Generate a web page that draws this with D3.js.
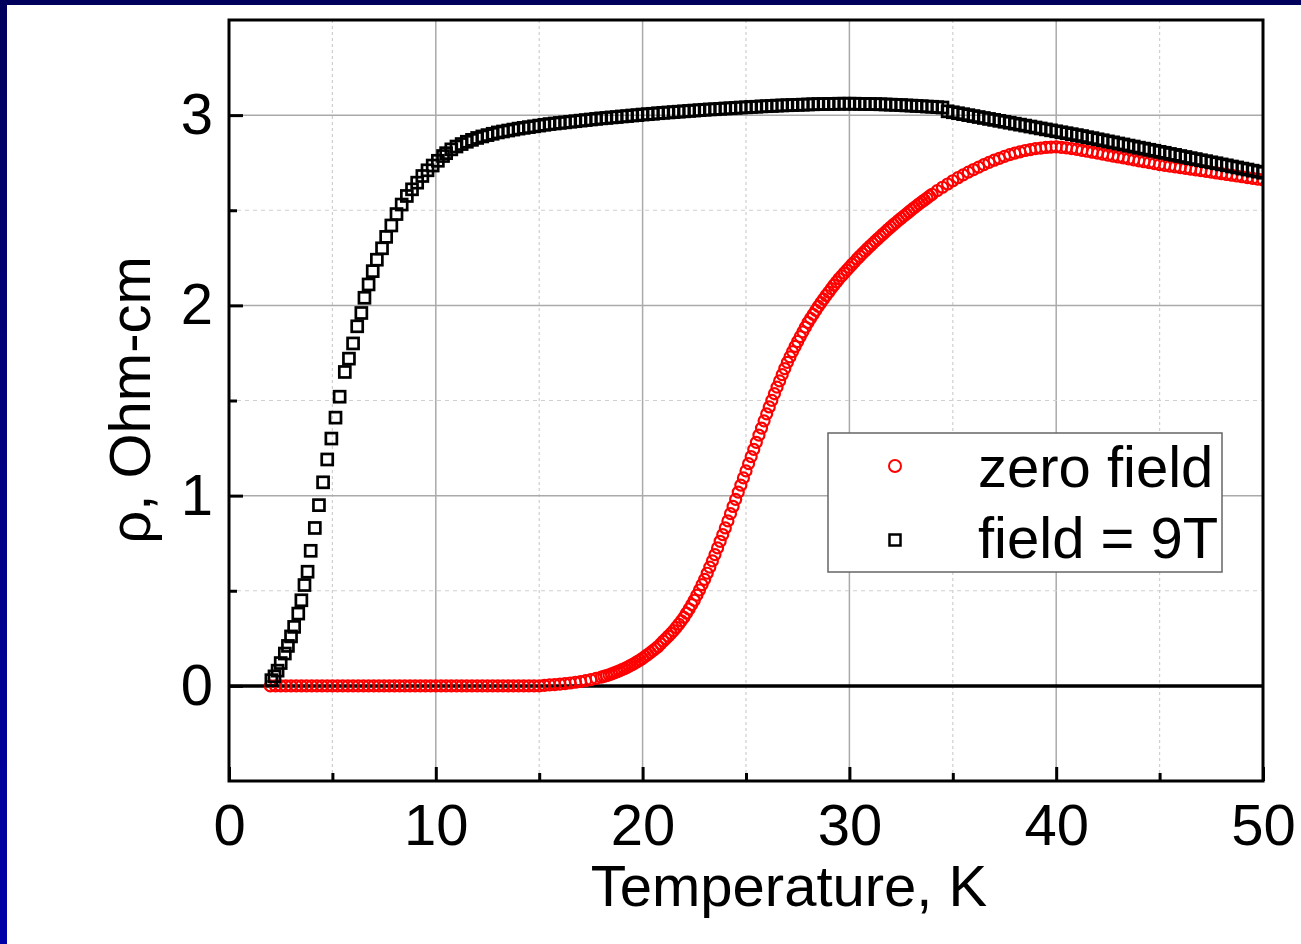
<!DOCTYPE html>
<html>
<head>
<meta charset="utf-8">
<script src="https://cdn.jsdelivr.net/npm/d3@7.9.0/dist/d3.min.js"></script>
<style>
  html, body { margin: 0; padding: 0; background: #000066; }
  svg { display: block; }
  text { font-family: "Liberation Sans", Arial, sans-serif; fill: #000; }
</style>
</head>
<body>
<svg id="chart" width="1301" height="944"></svg>
<script>
// zero field (red circles): temperature, K and resistivity, Ohm-cm
const zeroFieldT = [
  2, 2.25, 2.5, 2.75, 3, 3.25, 3.5, 3.75,
  4, 4.25, 4.5, 4.75, 5, 5.25, 5.5, 5.75,
  6, 6.25, 6.5, 6.75, 7, 7.25, 7.5, 7.75,
  8, 8.25, 8.5, 8.75, 9, 9.25, 9.5, 9.75,
  10, 10.25, 10.5, 10.75, 11, 11.25, 11.5, 11.75,
  12, 12.25, 12.5, 12.75, 13, 13.25, 13.5, 13.75,
  14, 14.25, 14.5, 14.75, 15, 15.25, 15.5, 15.75,
  16, 16.25, 16.5, 16.75, 17, 17.25, 17.5, 17.75,
  18, 18.125, 18.25, 18.375, 18.5, 18.625, 18.75, 18.875,
  19, 19.125, 19.25, 19.375, 19.5, 19.625, 19.75, 19.875,
  20, 20.125, 20.25, 20.375, 20.5, 20.625, 20.75, 20.875,
  21, 21.125, 21.25, 21.375, 21.5, 21.625, 21.75, 21.875,
  22, 22.125, 22.25, 22.375, 22.5, 22.625, 22.75, 22.875,
  23, 23.125, 23.25, 23.375, 23.5, 23.625, 23.75, 23.875,
  24, 24.125, 24.25, 24.375, 24.5, 24.625, 24.75, 24.875,
  25, 25.125, 25.25, 25.375, 25.5, 25.625, 25.75, 25.875,
  26, 26.125, 26.25, 26.375, 26.5, 26.625, 26.75, 26.875,
  27, 27.125, 27.25, 27.375, 27.5, 27.625, 27.75, 27.875,
  28, 28.125, 28.25, 28.375, 28.5, 28.625, 28.75, 28.875,
  29, 29.125, 29.25, 29.375, 29.5, 29.625, 29.75, 29.875,
  30, 30.125, 30.25, 30.375, 30.5, 30.625, 30.75, 30.875,
  31, 31.125, 31.25, 31.375, 31.5, 31.625, 31.75, 31.875,
  32, 32.125, 32.25, 32.375, 32.5, 32.625, 32.75, 32.875,
  33, 33.125, 33.25, 33.375, 33.5, 33.625, 33.75, 33.875,
  34, 34.25, 34.5, 34.75, 35, 35.25, 35.5, 35.75,
  36, 36.25, 36.5, 36.75, 37, 37.25, 37.5, 37.75,
  38, 38.25, 38.5, 38.75, 39, 39.25, 39.5, 39.75,
  40, 40.25, 40.5, 40.75, 41, 41.25, 41.5, 41.75,
  42, 42.25, 42.5, 42.75, 43, 43.25, 43.5, 43.75,
  44, 44.25, 44.5, 44.75, 45, 45.25, 45.5, 45.75,
  46, 46.25, 46.5, 46.75, 47, 47.25, 47.5, 47.75,
  48, 48.25, 48.5, 48.75, 49, 49.25, 49.5, 49.75,
  50
];
const zeroFieldRho = [
  0, 0, 0, 0, 0, 0, 0, 0,
  0, 0, 0, 0, 0, 0, 0, 0,
  0, 0, 0, 0, 0, 0, 0, 0,
  0, 0, 0, 0, 0, 0, 0, 0,
  0, 0, 0, 0, 0, 0, 0, 0,
  0, 0, 0, 0, 0, 0, 0, 0,
  0, 0, 0, 0, 0, 0.003, 0.005, 0.007,
  0.009, 0.012, 0.015, 0.019, 0.023, 0.028, 0.033, 0.039,
  0.046, 0.05, 0.054, 0.058, 0.063, 0.068, 0.074, 0.079,
  0.085, 0.091, 0.098, 0.105, 0.112, 0.12, 0.128, 0.136,
  0.145, 0.155, 0.165, 0.175, 0.185, 0.196, 0.207, 0.221,
  0.235, 0.248, 0.262, 0.276, 0.29, 0.307, 0.324, 0.342,
  0.36, 0.382, 0.404, 0.427, 0.45, 0.477, 0.504, 0.532,
  0.56, 0.592, 0.624, 0.657, 0.69, 0.725, 0.76, 0.795,
  0.83, 0.867, 0.905, 0.943, 0.98, 1.018, 1.055, 1.093,
  1.13, 1.168, 1.205, 1.243, 1.28, 1.318, 1.355, 1.393,
  1.43, 1.466, 1.501, 1.536, 1.57, 1.603, 1.636, 1.668,
  1.7, 1.729, 1.757, 1.784, 1.81, 1.836, 1.861, 1.886,
  1.91, 1.932, 1.953, 1.974, 1.995, 2.014, 2.033, 2.052,
  2.07, 2.088, 2.106, 2.123, 2.14, 2.155, 2.17, 2.185,
  2.2, 2.215, 2.229, 2.244, 2.258, 2.272, 2.285, 2.299,
  2.312, 2.325, 2.338, 2.35, 2.363, 2.375, 2.388, 2.4,
  2.412, 2.424, 2.435, 2.447, 2.458, 2.469, 2.48, 2.491,
  2.502, 2.513, 2.523, 2.534, 2.544, 2.554, 2.564, 2.574,
  2.584, 2.603, 2.621, 2.638, 2.655, 2.671, 2.686, 2.7,
  2.714, 2.727, 2.74, 2.752, 2.763, 2.773, 2.783, 2.792,
  2.8, 2.807, 2.814, 2.819, 2.824, 2.827, 2.83, 2.832,
  2.833, 2.831, 2.828, 2.824, 2.82, 2.815, 2.81, 2.805,
  2.8, 2.795, 2.79, 2.785, 2.78, 2.775, 2.77, 2.765,
  2.76, 2.755, 2.75, 2.745, 2.74, 2.736, 2.732, 2.728,
  2.724, 2.72, 2.716, 2.712, 2.708, 2.704, 2.7, 2.696,
  2.692, 2.688, 2.684, 2.68, 2.676, 2.672, 2.668, 2.664,
  2.66
];

// field = 9T (black squares)
const field9T_T = [
  2.05, 2.2, 2.35, 2.5, 2.7, 2.85, 3, 3.15, 3.35, 3.5, 3.65, 3.8, 3.95, 4.15,
  4.35, 4.55, 4.75, 4.95, 5.15, 5.35, 5.6, 5.8, 6, 6.2, 6.4, 6.55, 6.75, 6.95,
  7.15, 7.4, 7.6, 7.85, 8.1, 8.35, 8.6, 8.85, 9.1, 9.35, 9.6, 9.85, 10.1, 10.35,
  10.5, 10.75, 11, 11.25, 11.5, 11.75,
  12, 12.25, 12.5, 12.75, 13, 13.25, 13.5, 13.75,
  14, 14.25, 14.5, 14.75, 15, 15.25, 15.5, 15.75,
  16, 16.25, 16.5, 16.75, 17, 17.25, 17.5, 17.75,
  18, 18.25, 18.5, 18.75, 19, 19.25, 19.5, 19.75,
  20, 20.25, 20.5, 20.75, 21, 21.25, 21.5, 21.75,
  22, 22.25, 22.5, 22.75, 23, 23.25, 23.5, 23.75,
  24, 24.25, 24.5, 24.75, 25, 25.25, 25.5, 25.75,
  26, 26.25, 26.5, 26.75, 27, 27.25, 27.5, 27.75,
  28, 28.25, 28.5, 28.75, 29, 29.25, 29.5, 29.75,
  30, 30.25, 30.5, 30.75, 31, 31.25, 31.5, 31.75,
  32, 32.25, 32.5, 32.75, 33, 33.25, 33.5, 33.75,
  34, 34.25, 34.5, 34.75, 35, 35.25, 35.5, 35.75,
  36, 36.25, 36.5, 36.75, 37, 37.25, 37.5, 37.75,
  38, 38.25, 38.5, 38.75, 39, 39.25, 39.5, 39.75,
  40, 40.25, 40.5, 40.75, 41, 41.25, 41.5, 41.75,
  42, 42.25, 42.5, 42.75, 43, 43.25, 43.5, 43.75,
  44, 44.25, 44.5, 44.75, 45, 45.25, 45.5, 45.75,
  46, 46.25, 46.5, 46.75, 47, 47.25, 47.5, 47.75,
  48, 48.25, 48.5, 48.75, 49, 49.25, 49.5, 49.75,
  50
];
const field9T_Rho = [
  0.03, 0.05, 0.08, 0.12, 0.17, 0.21, 0.26, 0.31, 0.38, 0.45, 0.53, 0.6, 0.71, 0.83,
  0.95, 1.07, 1.19, 1.3, 1.41, 1.52, 1.65, 1.72, 1.8, 1.89, 1.96, 2.04, 2.11, 2.18,
  2.24, 2.3, 2.36, 2.42, 2.48, 2.53, 2.575, 2.61, 2.645, 2.68, 2.71, 2.735, 2.76, 2.785,
  2.8, 2.82, 2.835, 2.848, 2.86, 2.87,
  2.88, 2.888, 2.895, 2.902, 2.909, 2.914, 2.919, 2.924,
  2.929, 2.933, 2.937, 2.941, 2.945, 2.949, 2.953, 2.956,
  2.959, 2.962, 2.965, 2.968, 2.971, 2.974, 2.977, 2.98,
  2.983, 2.985, 2.988, 2.99, 2.993, 2.995, 2.998, 3.0,
  3.003, 3.005, 3.007, 3.01, 3.012, 3.014, 3.016, 3.018,
  3.02, 3.022, 3.024, 3.026, 3.028, 3.03, 3.031, 3.033,
  3.035, 3.036, 3.038, 3.04, 3.041, 3.043, 3.044, 3.046,
  3.047, 3.048, 3.05, 3.051, 3.052, 3.053, 3.054, 3.055,
  3.056, 3.057, 3.058, 3.058, 3.059, 3.059, 3.06, 3.06,
  3.06, 3.06, 3.059, 3.059, 3.058, 3.058, 3.057, 3.056,
  3.055, 3.054, 3.053, 3.051, 3.05, 3.048, 3.047, 3.045,
  3.044, 3.042, 3.04, 3.02, 3.015, 3.01, 3.005, 3.0,
  2.995, 2.99, 2.985, 2.98, 2.975, 2.97, 2.965, 2.96,
  2.955, 2.95, 2.945, 2.94, 2.935, 2.93, 2.925, 2.92,
  2.915, 2.91, 2.905, 2.9, 2.895, 2.89, 2.884, 2.879,
  2.873, 2.868, 2.862, 2.857, 2.851, 2.846, 2.84, 2.835,
  2.829, 2.824, 2.818, 2.813, 2.807, 2.802, 2.796, 2.791,
  2.785, 2.78, 2.774, 2.769, 2.763, 2.758, 2.752, 2.747,
  2.741, 2.736, 2.73, 2.725, 2.719, 2.714, 2.708, 2.703,
  2.697
];

const xMajorTicks = [0, 10, 20, 30, 40, 50];
const xMinorTicks = [5, 15, 25, 35, 45];
const yMajorTicks = [0, 1, 2, 3];
const yMinorTicks = [0.5, 1.5, 2.5];
const seriesLabels = ['zero field', 'field = 9T'];

const svg = d3.select('#chart');

// slide background
const defs = svg.append('defs');
const grad = defs.append('linearGradient')
  .attr('id', 'bg').attr('x1', 0).attr('y1', 0).attr('x2', 0).attr('y2', 1);
grad.append('stop').attr('offset', '0%').attr('stop-color', '#00005c');
grad.append('stop').attr('offset', '100%').attr('stop-color', '#0000a8');
svg.append('rect').attr('width', 1301).attr('height', 944).attr('fill', 'url(#bg)');
svg.append('rect').attr('x', 7).attr('y', 5).attr('width', 1294).attr('height', 939).attr('fill', '#fff');

const plotL = 229, plotR = 1263, plotT = 20, plotB = 781;
const x = d3.scaleLinear().domain([0, 50]).range([plotL, plotR]);
const y = d3.scaleLinear().domain([-0.5, 3.5]).range([plotB, plotT]);

defs.append('clipPath').attr('id', 'plot')
  .append('rect').attr('x', plotL).attr('y', plotT).attr('width', plotR - plotL).attr('height', plotB - plotT);

// grid
const grid = svg.append('g');
grid.selectAll('.vmaj').data(xMajorTicks.slice(1, -1)).join('line').attr('class', 'vmaj')
  .attr('x1', d => x(d)).attr('x2', d => x(d)).attr('y1', plotT).attr('y2', plotB)
  .attr('stroke', '#aaaaaa').attr('stroke-width', 1.5);
grid.selectAll('.vmin').data(xMinorTicks).join('line').attr('class', 'vmin')
  .attr('x1', d => x(d)).attr('x2', d => x(d)).attr('y1', plotT).attr('y2', plotB)
  .attr('stroke', '#cfcfcf').attr('stroke-width', 1.2).attr('stroke-dasharray', '3,3');
grid.selectAll('.hmaj').data(yMajorTicks).join('line').attr('class', 'hmaj')
  .attr('y1', d => y(d)).attr('y2', d => y(d)).attr('x1', plotL).attr('x2', plotR)
  .attr('stroke', '#aaaaaa').attr('stroke-width', 1.5);
grid.selectAll('.hmin').data(yMinorTicks).join('line').attr('class', 'hmin')
  .attr('y1', d => y(d)).attr('y2', d => y(d)).attr('x1', plotL).attr('x2', plotR)
  .attr('stroke', '#cfcfcf').attr('stroke-width', 1.2).attr('stroke-dasharray', '4,4');

// zero line
svg.append('line')
  .attr('x1', x(0)).attr('x2', x(50)).attr('y1', y(0)).attr('y2', y(0))
  .attr('stroke', '#000').attr('stroke-width', 3.5);

// data
const zeroField = zeroFieldT.map((t, i) => ({ t, r: zeroFieldRho[i] }));
const field9T = field9T_T.map((t, i) => ({ t, r: field9T_Rho[i] }));

const marks = svg.append('g').attr('clip-path', 'url(#plot)');
marks.selectAll('circle').data(zeroField).join('circle')
  .attr('cx', d => x(d.t)).attr('cy', d => y(d.r)).attr('r', 5.5)
  .attr('fill', 'none').attr('stroke', '#ff0000').attr('stroke-width', 2.2);
marks.selectAll('rect').data(field9T).join('rect')
  .attr('x', d => x(d.t) - 5.5).attr('y', d => y(d.r) - 5.5)
  .attr('width', 11).attr('height', 11)
  .attr('fill', 'none').attr('stroke', '#000').attr('stroke-width', 2.7);

// axes
function styleAxis(g) {
  g.select('.domain').remove();
  g.attr('font-family', null).attr('font-size', null);
  g.selectAll('line').attr('stroke', '#000').attr('stroke-width', 3);
  g.selectAll('text').style('font-size', '58px');
}
svg.append('g').attr('transform', `translate(0,${plotB})`)
  .call(d3.axisBottom(x).tickValues(xMajorTicks).tickSize(-14).tickPadding(23).tickFormat(d3.format('d')))
  .call(styleAxis);
svg.append('g').attr('transform', `translate(0,${plotB})`)
  .call(d3.axisBottom(x).tickValues(xMinorTicks).tickSize(-8).tickFormat(''))
  .call(styleAxis);
svg.append('g').attr('transform', `translate(${plotL},0)`)
  .call(d3.axisLeft(y).tickValues(yMajorTicks).tickSize(-14).tickPadding(16).tickFormat(d3.format('d')))
  .call(styleAxis);
svg.append('g').attr('transform', `translate(${plotL},0)`)
  .call(d3.axisLeft(y).tickValues(yMinorTicks).tickSize(-8).tickFormat(''))
  .call(styleAxis);

// frame
svg.append('rect')
  .attr('x', plotL).attr('y', plotT).attr('width', plotR - plotL).attr('height', plotB - plotT)
  .attr('fill', 'none').attr('stroke', '#000').attr('stroke-width', 3);

// titles
svg.append('text').attr('x', 789).attr('y', 906).attr('text-anchor', 'middle')
  .style('font-size', '58px').text('Temperature, K');
svg.append('text').attr('transform', 'translate(150,400) rotate(-90)').attr('text-anchor', 'middle')
  .style('font-size', '58px').text('ρ, Ohm-cm');

// legend
const legend = svg.append('g');
legend.append('rect').attr('x', 828).attr('y', 433).attr('width', 394).attr('height', 139)
  .attr('fill', '#fff').attr('stroke', '#666').attr('stroke-width', 1.5);
legend.append('circle').attr('cx', 895).attr('cy', 466).attr('r', 6)
  .attr('fill', 'none').attr('stroke', '#ff0000').attr('stroke-width', 2);
legend.append('rect').attr('x', 889.5).attr('y', 534.5).attr('width', 11).attr('height', 11)
  .attr('fill', 'none').attr('stroke', '#000').attr('stroke-width', 2.5);
legend.selectAll('text').data(seriesLabels).join('text')
  .attr('x', 978).attr('y', (d, i) => [487, 558][i])
  .style('font-size', '58px').text(d => d);
</script>
</body>
</html>
